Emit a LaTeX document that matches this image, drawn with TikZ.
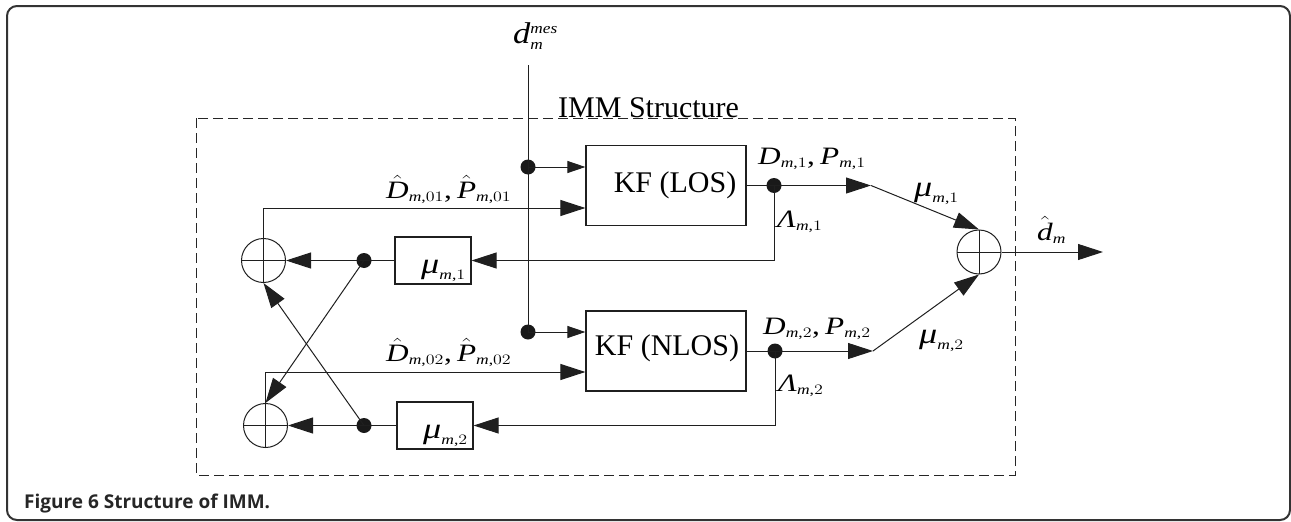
\documentclass[tikz,border=0pt]{standalone}
\usepackage{graphicx}
\usepackage{fontspec}
\setmainfont{Liberation Serif}
\newfontfamily\capfont{Open Sans}
\DeclareSymbolFont{tuletters}{TU}{\rmdefault}{m}{it}
\DeclareSymbolFont{turm}{TU}{\rmdefault}{m}{n}
\DeclareMathSymbol{D}{\mathalpha}{tuletters}{`D}
\DeclareMathSymbol{P}{\mathalpha}{tuletters}{`P}
\DeclareMathSymbol{d}{\mathalpha}{tuletters}{`d}
\DeclareMathSymbol{m}{\mathalpha}{tuletters}{`m}
\DeclareMathSymbol{e}{\mathalpha}{tuletters}{`e}
\DeclareMathSymbol{s}{\mathalpha}{tuletters}{`s}
\DeclareMathSymbol{0}{\mathalpha}{turm}{`0}
\DeclareMathSymbol{1}{\mathalpha}{turm}{`1}
\DeclareMathSymbol{2}{\mathalpha}{turm}{`2}
\DeclareMathSymbol{,}{\mathpunct}{turm}{`,}
\DeclareMathSizes{25}{25}{14}{11}
\DeclareMathSizes{30}{30}{15}{13}
\newcommand\gmu{\mbox{\fontsize{29}{29}\selectfont\itshape μ}}
\newcommand\gLam{\mbox{\itshape Λ}}
\newcommand\mlab[1]{\scalebox{1.25}[1]{$#1$}}
\usetikzlibrary{arrows.meta,calc}
\begin{document}
\begin{tikzpicture}[x=1pt,y=-1pt,
  ln/.style={line width=1pt,draw=black!88},
  larrow/.style={ln,-{Triangle[length=25pt,width=16pt]}},
  sarrow/.style={ln,-{Triangle[length=18pt,width=12pt]}},
  kfbox/.style={draw=black!88,line width=1.2pt,minimum width=160pt,minimum height=80pt,inner sep=0pt},
  mubox/.style={draw=black!88,line width=1.2pt,minimum width=76pt,minimum height=47pt,inner sep=0pt},
  dotnode/.style={circle,fill=black!90,minimum size=15pt,inner sep=0pt},
  sumnode/.style={circle,draw=black!88,line width=1pt,minimum size=44pt,inner sep=0pt,
    path picture={\draw[line width=1pt,black!88] (path picture bounding box.north) -- (path picture bounding box.south)
      (path picture bounding box.west) -- (path picture bounding box.east);}},
  mlabel/.style={font=\fontsize{25}{27}\selectfont,inner sep=0pt,anchor=base west},
  kftext/.style={font=\fontsize{30}{32}\selectfont,inner sep=0pt},
  dashbox/.style={line width=1pt,draw=black!85,dash pattern=on 10pt off 5pt}
]
\useasboundingbox (0,0) rectangle (1291,522);
% outer frame
\draw[line width=2pt,draw=black!80,rounded corners=10pt] (7,6) rectangle (1290,520);
\node[anchor=base west,inner sep=0pt,font=\fontsize{19}{21}\selectfont\capfont\bfseries,text=black!85] (cap) at (24,508) {Figure 6 Structure of IMM.};

% IMM dashed box
\draw[dashbox] (196,118) rectangle (1015,475);
\node[kftext,anchor=base west] (immlbl) at (558,117) {IMM Structure};

% input
\node[mlabel,font=\fontsize{30}{32}\selectfont] (dmes) at (513,43) {\scalebox{1.15}[1]{$d^{\scriptstyle mes}_{\scriptstyle m}$}};
\coordinate (dtop) at (528,65);
\node[dotnode] (d1) at (528,167) {};
\node[dotnode] (d2) at (528,332) {};
\draw[ln] (dtop) -- (d2.center);

% KF boxes
\node[kfbox] (los) at (666,185.5) {};
\node[kftext] (loslbl) at (675,185) {KF (LOS)};
\node[kfbox] (nlos) at (666,351) {};
\node[kftext] (nloslbl) at (667,348) {KF (NLOS)};

% mu boxes
\node[mubox] (mu1) at (433,260.5) {};
\node[mlabel] (mu1lbl) at (421,273) {\mlab{\gmu_{m,1}}};
\node[mubox] (mu2) at (435,425.5) {};
\node[mlabel] (mu2lbl) at (423,438) {\mlab{\gmu_{m,2}}};

% sum nodes
\node[sumnode] (c1) at (263.5,260.5) {};
\node[sumnode] (c2) at (265.5,425.5) {};
\node[sumnode] (c3) at (979,252) {};

% dots
\node[dotnode] (o1) at (774,185.5) {};
\node[dotnode] (o2) at (775,351) {};
\node[dotnode] (m1) at (364,260.5) {};
\node[dotnode] (m2) at (364,425.5) {};

\coordinate (a1) at (871,185.5);
\coordinate (a2) at (873,351);
\coordinate (out) at (1103,252);

% measurement arrows
\draw[sarrow] (d1.center) -- (d1 -| los.west);
\draw[sarrow] (d2.center) -- (d2 -| nlos.west);

% mixed inputs
\draw[larrow] (c1.north) |- ([yshift=-22.5pt]los.west);
\draw[larrow] (c2.north) |- ([yshift=-21pt]nlos.west);

% outputs
\draw[ln] (los.east) -- (o1.center);
\draw[larrow] (o1.center) -- (a1);
\draw[larrow] (a1) -- (c3.north);
\draw[ln] (nlos.east) -- (o2.center);
\draw[larrow] (o2.center) -- (a2);
\draw[larrow] (a2) -- (c3.south);
\draw[larrow] (c3.east) -- (out);

% likelihood feedback
\draw[larrow] (o1.center) |- (mu1.east);
\draw[larrow] (o2.center) |- (mu2.east);

% mixing
\draw[ln] (mu1.west) -- (m1.center);
\draw[ln] (mu2.west) -- (m2.center);
\draw[larrow] (m1.center) -- (c1.east);
\draw[larrow] (m2.center) -- (c2.east);
\draw[larrow] (m1.center) -- (c2.north);
\draw[larrow] (m2.center) -- (c1.south);

% labels
\node[mlabel] (l01) at (386,198) {\mlab{\hat{D}_{m,01},\hat{P}_{m,01}}};
\node[mlabel] (l02) at (386,361) {\mlab{\hat{D}_{m,02},\hat{P}_{m,02}}};
\node[mlabel] (ldp1) at (758,164) {\mlab{D_{m,1},P_{m,1}}};
\node[mlabel] (ldp2) at (763,334) {\mlab{D_{m,2},P_{m,2}}};
\node[mlabel] (llam1) at (777,227) {\mlab{\gLam_{m,1}}};
\node[mlabel] (llam2) at (778,391) {\mlab{\gLam_{m,2}}};
\node[mlabel] (lmu1) at (914,196) {\mlab{\gmu_{m,1}}};
\node[mlabel] (lmu2) at (919,343) {\mlab{\gmu_{m,2}}};
\node[mlabel] (ldhat) at (1037,240) {\mlab{\hat{d}_m}};
\end{tikzpicture}
\end{document}
